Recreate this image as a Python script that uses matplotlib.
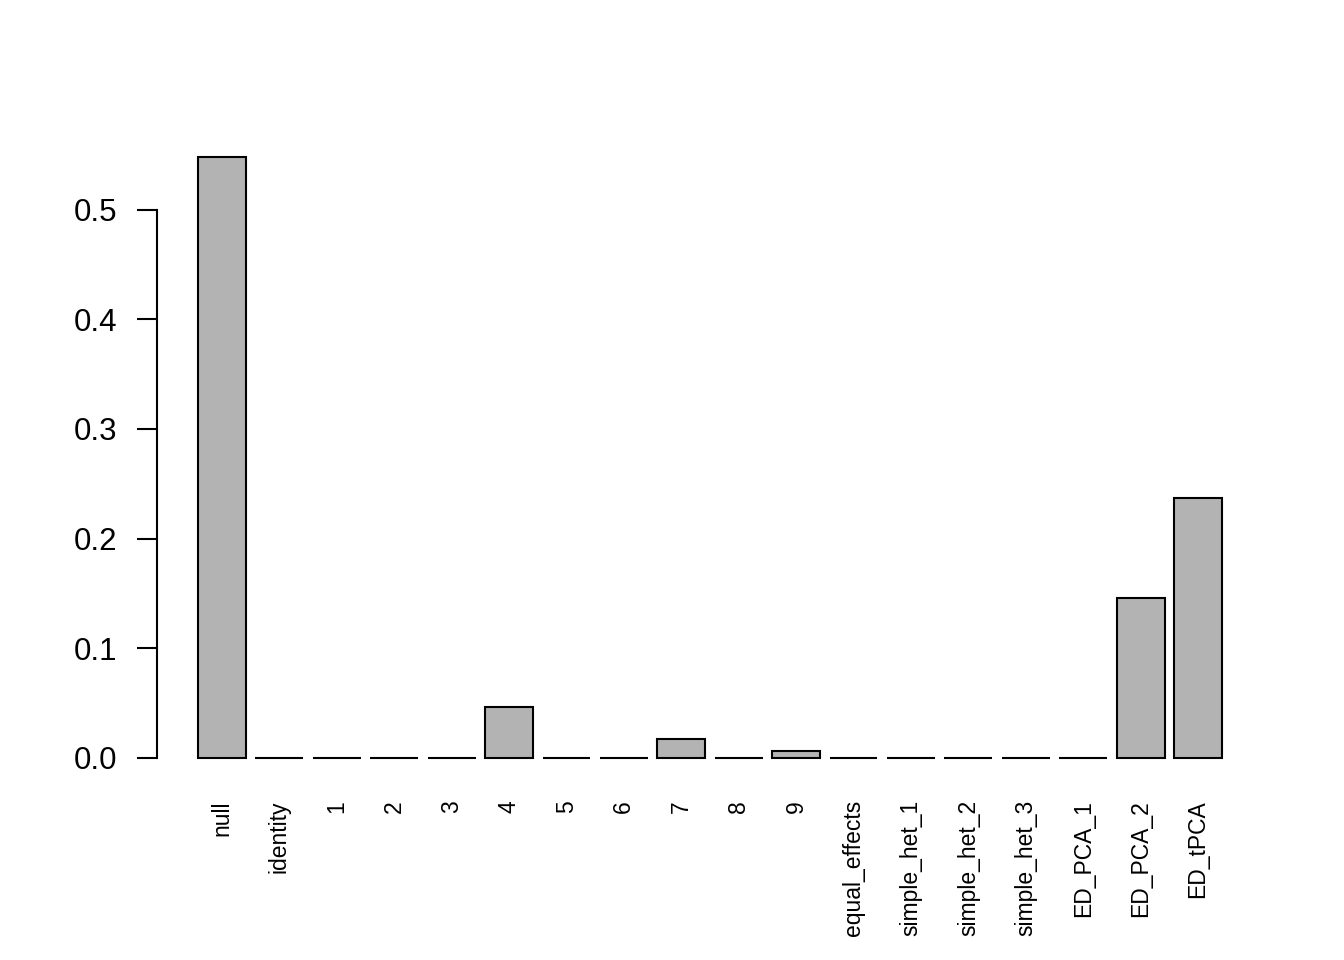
import numpy as np
import matplotlib
matplotlib.use("Agg")
import matplotlib.pyplot as plt

plt.rcParams['font.family'] = ['Liberation Sans', 'DejaVu Sans']

# data
labels = ['null', 'identity', '1', '2', '3', '4', '5', '6', '7', '8', '9',
          'equal_effects', 'simple_het_1', 'simple_het_2', 'simple_het_3',
          'ED_PCA_1', 'ED_PCA_2', 'ED_tPCA']
values = [0.548, 0.0, 0.0, 0.0, 0.0, 0.0465, 0.0, 0.0, 0.0173, 0.0, 0.0064,
          0.0, 0.0, 0.0, 0.0, 0.0, 0.146, 0.237]
yticks = [0.0, 0.1, 0.2, 0.3, 0.4, 0.5]

# R barplot geometry: width 1, space 0.2
n = len(values)
centers = 0.7 + 1.2 * np.arange(n)
xl = (0.2, 0.2 + 1.2 * n - 0.2)
xr = xl[1] - xl[0]
ymax = max(values)

fig = plt.figure(figsize=(13.44, 9.6), dpi=100)
ax = fig.add_axes([157 / 1344, (960 - 782) / 960, (1263 - 157) / 1344, (782 - 133) / 960])

ax.bar(centers, values, width=1.0, color='#B3B3B3', edgecolor='black', linewidth=1.5)

ax.set_xlim(xl[0] - 0.04 * xr, xl[1] + 0.04 * xr)
ax.set_ylim(-0.04 * ymax, ymax * 1.04)

for s in ['top', 'right', 'bottom']:
    ax.spines[s].set_visible(False)
ax.spines['left'].set_bounds(0, 0.5)
ax.spines['left'].set_linewidth(1.5)

ax.set_yticks(yticks)
ax.set_yticklabels(['%.1f' % v for v in yticks])
ax.tick_params(axis='y', direction='out', length=14.4, width=1.5, pad=14, labelsize=22.5)

ax.set_xticks(centers)
ax.set_xticklabels(labels, rotation=90, va='top', ha='center')
ax.tick_params(axis='x', length=0, pad=13, labelsize=16.5)

fig.savefig('out.png', dpi=100)
